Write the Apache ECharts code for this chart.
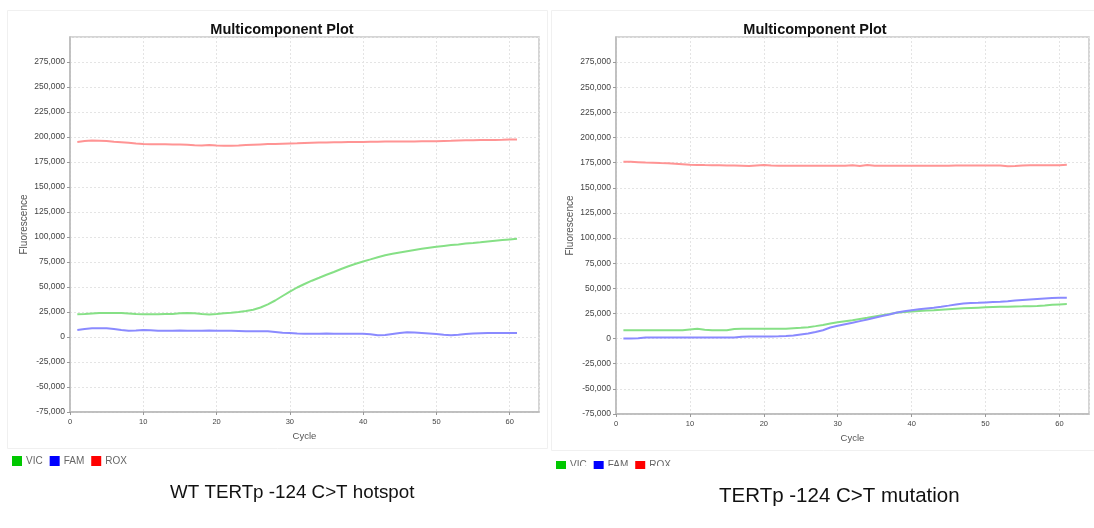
<!DOCTYPE html>
<html>
<head>
<meta charset="utf-8">
<script src="https://cdn.jsdelivr.net/npm/echarts@6/dist/echarts.min.js"></script>
<style>
html,body{margin:0;padding:0;background:#fff;}
#c{width:1094px;height:528px;}
</style>
</head>
<body>
<div id="c"></div>
<script>
const cycles = [1,2,3,4,5,6,7,8,9,10,11,12,13,14,15,16,17,18,19,20,21,22,23,24,25,26,27,28,29,30,31,32,33,34,35,36,37,38,39,40,41,42,43,44,45,46,47,48,49,50,51,52,53,54,55,56,57,58,59,60,61];

const seriesNames = ['VIC','FAM','ROX'];
const chartTitle = 'Multicomponent Plot';
const captionLeft = 'WT TERTp -124 C>T hotspot';
const captionRight = 'TERTp -124 C>T mutation';
const yTicks = [-75000,-50000,-25000,0,25000,50000,75000,100000,125000,150000,175000,200000,225000,250000,275000];
const xTicks = [0,10,20,30,40,50,60];

// Left panel (WT)
const wtVIC = [22700,23000,23500,24000,24000,24000,24000,23500,23000,22700,22700,22800,23000,23000,23800,24000,23800,23000,22500,23000,23800,24300,25000,26000,27300,29500,32700,36500,41000,45300,49500,53000,56300,59200,62200,65000,68000,70800,73200,75500,77600,79800,81800,83200,84600,85800,87000,88200,89300,90300,91100,91900,92600,93400,94000,94700,95500,96200,96900,97600,98300];
const wtFAM = [7000,8000,8700,8700,8700,8000,7000,6300,6500,7000,6800,6300,6300,6300,6400,6300,6300,6300,6400,6300,6300,6200,6000,5800,5700,5700,5700,5000,4300,4000,3500,3300,3300,3300,3400,3300,3300,3300,3200,3300,2800,1800,2000,3000,4000,4800,4500,4000,3500,3000,2200,1700,2300,3000,3500,3800,4000,4000,4000,4000,4000];
const wtROX = [195000,196000,196500,196300,196000,195300,194800,194300,193500,193000,192800,192700,192700,192600,192500,192300,191800,191500,192000,191600,191300,191300,191600,192000,192300,192600,192900,193100,193300,193500,193700,194000,194200,194400,194600,194700,194800,194900,195000,195100,195200,195300,195400,195500,195500,195600,195600,195700,195700,195800,196000,196200,196500,196700,196800,196900,197000,197100,197200,197400,197600];

// Right panel (mutation)
const mtVIC = [8300,8300,8300,8300,8300,8300,8300,8300,8300,9000,9700,8800,8300,8300,8300,9500,9700,9700,9700,9700,9700,9700,9700,10200,10700,11300,12400,13600,15000,16300,17300,18300,19500,20700,22000,23300,24500,25800,26500,27000,27500,28000,28300,28800,29300,29800,30200,30500,30800,31100,31400,31700,31800,32000,32100,32300,32500,33000,33600,34000,34300];
const mtFAM = [0,0,300,1000,1000,1000,1000,1000,1000,1000,1000,1000,1000,1000,1000,1000,1800,2000,2000,2100,2200,2300,2600,3000,4000,5000,6500,8300,11000,12800,14300,15800,17400,19000,20800,22500,24000,26000,27300,28300,29200,30000,30700,31700,32800,34000,35000,35300,35600,36000,36400,36700,37200,37800,38400,39000,39500,40000,40400,40600,40700];
const mtROX = [176000,175800,175500,175200,175000,174700,174500,174000,173500,173000,172800,172600,172500,172400,172300,172200,172000,171800,172300,172800,172300,172000,172000,172000,172000,172000,172000,172000,172000,172000,172000,172500,171800,172600,172000,172000,172000,172000,172000,172000,172000,172000,172000,172000,172000,172200,172200,172200,172200,172200,172200,172200,171500,171800,172200,172500,172500,172500,172500,172500,173000];

const lineColors = {VIC:'#86e086', FAM:'#8a8aff', ROX:'#ff9494'};
const legendColors = {VIC:'#00c800', FAM:'#0000ff', ROX:'#ff0000'};

const FONT = '"Liberation Sans", Arial, sans-serif';

function pairs(vals){ return cycles.map((c,i)=>[c, vals[i]]); }
function fmt(v){ return v.toLocaleString('en-US'); }

function makeXAxis(gi){
  return {
    type:'value', gridIndex:gi, min:0, max:64, interval:10,
    name:'Cycle', nameLocation:'middle', nameGap:19,
    nameTextStyle:{fontFamily:FONT, fontSize:9.5, color:'#555'},
    axisLine:{show:true, onZero:false, lineStyle:{color:'#b8b8b8', width:1.5}},
    axisTick:{show:true, length:3, lineStyle:{color:'#999'}},
    axisLabel:{fontFamily:FONT, fontSize:7.5, color:'#444', margin:6, showMaxLabel:false,
      formatter:v=> xTicks.indexOf(v)>=0 ? String(v) : ''},
    splitLine:{show:true, lineStyle:{color:'#e4e4e4', type:[2,2], width:1}}
  };
}
function makeYAxis(gi){
  return {
    type:'value', gridIndex:gi, min:-75000, max:300000, interval:25000,
    name:'Fluorescence', nameLocation:'middle', nameGap:41,
    nameTextStyle:{fontFamily:FONT, fontSize:10, color:'#555'},
    axisLine:{show:true, onZero:false, lineStyle:{color:'#b8b8b8', width:1.5}},
    axisTick:{show:true, length:3, lineStyle:{color:'#999'}},
    axisLabel:{fontFamily:FONT, fontSize:8.5, color:'#444', margin:5, showMaxLabel:false,
      formatter:v=> yTicks.indexOf(v)>=0 ? fmt(v) : ''},
    splitLine:{show:true, lineStyle:{color:'#e4e4e4', type:[2,2], width:1}}
  };
}
function makeSeries(name, vals, gi){
  return {
    name:name, type:'line', xAxisIndex:gi, yAxisIndex:gi,
    data:pairs(vals), showSymbol:false, symbol:'none', smooth:false,
    lineStyle:{color:lineColors[name], width:2},
    itemStyle:{color:lineColors[name]}
  };
}
function legendData(){
  return seriesNames.map(n=>({name:n, icon:'rect', itemStyle:{color:legendColors[n]}}));
}

const chart = echarts.init(document.getElementById('c'), null, {renderer:'canvas'});
chart.setOption({
  backgroundColor:'#ffffff',
  animation:false,
  title:[
    {text:chartTitle, left:277, top:17, textAlign:'center',
      textStyle:{fontFamily:FONT, fontSize:14.5, fontWeight:'bold', color:'#111'}},
    {text:chartTitle, left:810, top:17, textAlign:'center',
      textStyle:{fontFamily:FONT, fontSize:14.5, fontWeight:'bold', color:'#111'}}
  ],
  grid:[
    {left:70, top:37, width:469, height:375, show:true, borderColor:'#c8c8c8', borderWidth:1.5, containLabel:false},
    {left:616, top:37, width:473, height:377, show:true, borderColor:'#c8c8c8', borderWidth:1.5, containLabel:false}
  ],
  xAxis:[makeXAxis(0), makeXAxis(1)],
  yAxis:[makeYAxis(0), makeYAxis(1)],
  legend:[
    {data:legendData(), left:12, top:456, padding:0, itemWidth:10, itemHeight:10, itemGap:7, selectedMode:false,
      textStyle:{fontFamily:FONT, fontSize:10, color:'#666', padding:[0,0,0,-1]}},
    {data:legendData(), left:556, top:460, padding:0, itemWidth:10, itemHeight:8, itemGap:7, selectedMode:false,
      textStyle:{fontFamily:FONT, fontSize:10, color:'#666', padding:[5,0,0,-1]}}
  ],
  series:[
    makeSeries('ROX', wtROX, 0),
    makeSeries('VIC', wtVIC, 0),
    makeSeries('FAM', wtFAM, 0),
    makeSeries('ROX', mtROX, 1),
    makeSeries('VIC', mtVIC, 1),
    makeSeries('FAM', mtFAM, 1)
  ],
  graphic:[
    {type:'rect', left:5, top:8, shape:{width:540, height:438}, style:{fill:'none', stroke:'#f0f0f0', lineWidth:1}, z:-10},
    {type:'rect', left:549, top:8, shape:{width:544, height:440}, style:{fill:'none', stroke:'#f0f0f0', lineWidth:1}, z:-10},
    {type:'rect', left:568, top:466, shape:{width:24, height:12}, style:{fill:'#ffffff'}, z:100},
    {type:'rect', left:605, top:466, shape:{width:30, height:12}, style:{fill:'#ffffff'}, z:100},
    {type:'rect', left:649, top:466, shape:{width:30, height:12}, style:{fill:'#ffffff'}, z:100},
    {type:'text', style:{text:captionLeft, fontFamily:FONT, fontSize:18.8, fill:'#111'}, left:170, top:483, z:50},
    {type:'text', style:{text:captionRight, fontFamily:FONT, fontSize:20.5, fill:'#111'}, left:719, top:486, z:50}
  ]
});
</script>
</body>
</html>
